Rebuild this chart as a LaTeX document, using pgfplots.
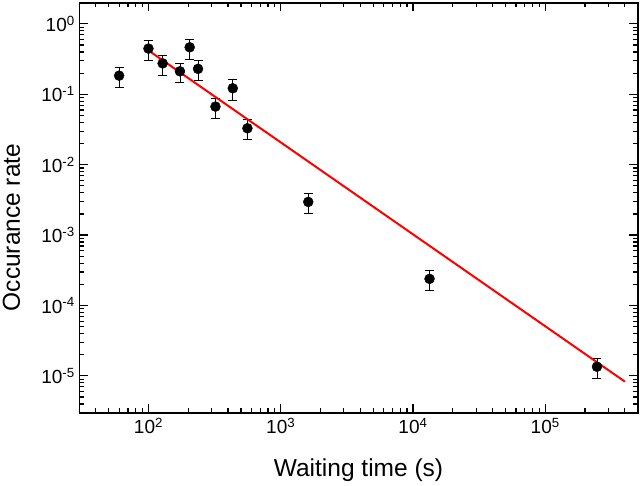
\documentclass[border=0pt]{standalone}
\usepackage{fontspec}
\setmainfont{Liberation Sans}
\usepackage{pgfplots}
\pgfplotsset{compat=1.18}
\begin{document}
\begin{tikzpicture}
\begin{axis}[
  xmode=log, ymode=log, log basis x=10, log basis y=10,
  scale only axis, width=558.4pt, height=410pt,
  xmin=30, xmax=5e5, ymin=3e-6, ymax=2,
  axis line style={line width=1.6pt},
  tick align=inside, xtick pos=both, ytick pos=both,
  major tick length=8.5pt, minor tick length=4.5pt,
  every tick/.style={black, line width=1.2pt},
  tick label style={font=\fontsize{19}{22}\selectfont},
  xticklabel style={yshift=-2pt},
  yticklabel style={xshift=-1pt},
  xticklabel={10\textsuperscript{\pgfmathparse{int(round(\tick))}\pgfmathresult}},
  yticklabel={10\textsuperscript{\pgfmathparse{int(round(\tick))}\pgfmathresult}},
  xlabel={Waiting time (s)}, ylabel={Occurance rate},
  label style={font=\fontsize{24.5}{28}\selectfont},
  xlabel style={at={(axis description cs:0.5,-0.1561)}, anchor=base},
  ylabel style={at={(axis description cs:-0.1062,0.4517)}, anchor=base},
]
\addplot[only marks, mark=*, mark size=5pt, black,
  error bars/.cd, y dir=both, y explicit,
  error bar style={line width=0.8pt, black},
  error mark options={rotate=90, mark size=4.5pt, line width=0.8pt, black}]
  table[x=x, y=y, y error=e] {
x y e
60 0.184 0.059
100 0.446 0.14
128 0.275 0.087
173 0.212 0.066
205 0.465 0.147
237 0.230 0.072
321 0.0669 0.021
434 0.1217 0.039
560 0.0329 0.0104
1615 0.00296 0.00095
13340 2.39e-4 7.6e-5
246000 1.35e-5 4.4e-6
};
\addplot[red, line width=2pt, no marks] coordinates {(100,0.42) (4e5,8.3e-6)};
\coordinate (ll) at (rel axis cs:0,0);
\coordinate (ur) at (rel axis cs:1,1);
\end{axis}
\pgfresetboundingbox
\path[use as bounding box] ([shift={(-79.3pt,-72.3pt)}]ll) rectangle ([shift={(2.3pt,2.7pt)}]ur);
\end{tikzpicture}
\end{document}
